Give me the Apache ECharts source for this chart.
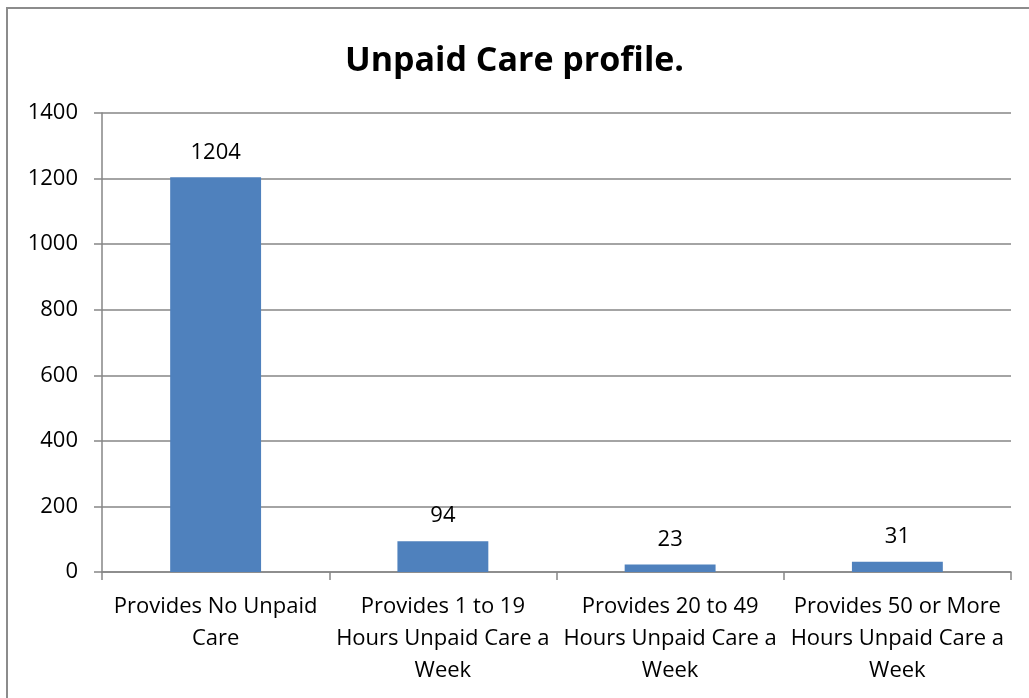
<!DOCTYPE html>
<html>
<head>
<meta charset="utf-8">
<script src="https://cdn.jsdelivr.net/npm/echarts@6/dist/echarts.min.js"></script>
<style>
  html, body { margin: 0; padding: 0; background: #fff; }
  #frame {
    position: absolute; left: 6px; top: 7px; width: 1040px; height: 720px;
    border: 2px solid #8c8c8c; box-sizing: border-box;
  }
  #chart { position: absolute; left: 0; top: 0; width: 1029px; height: 698px; }
</style>
</head>
<body>
<div id="frame"></div>
<div id="chart"></div>
<script>
  // categories and counts
  var categories = [
    'Provides No Unpaid\nCare',
    'Provides 1 to 19\nHours Unpaid Care a\nWeek',
    'Provides 20 to 49\nHours Unpaid Care a\nWeek',
    'Provides 50 or More\nHours Unpaid Care a\nWeek'
  ];
  var counts = [1204, 94, 23, 31];
  var yTicks = [0, 200, 400, 600, 800, 1000, 1200, 1400];

  var font = 'Open Sans, Noto Sans, sans-serif';
  var myChart = echarts.init(document.getElementById('chart'));
  myChart.setOption({
    animation: false,
    title: {
      text: 'Unpaid Care profile.',
      left: 'center',
      top: 39,
      textStyle: { fontFamily: font, fontSize: 34, fontWeight: 'bold', color: '#000' }
    },
    grid: { left: 102, right: 18, top: 113, bottom: 126 },
    xAxis: {
      type: 'category',
      data: categories,
      axisLine: { lineStyle: { color: '#868686', width: 1.5 } },
      axisTick: { show: true, length: 8, lineStyle: { color: '#868686', width: 1.5 } },
      axisLabel: {
        interval: 0, margin: 19, color: '#000',
        fontFamily: font, fontSize: 22, lineHeight: 32
      }
    },
    yAxis: {
      type: 'value',
      min: yTicks[0],
      max: yTicks[yTicks.length - 1],
      interval: 200,
      axisLine: { show: true, lineStyle: { color: '#868686', width: 1.5 } },
      axisTick: { show: true, length: 8, lineStyle: { color: '#868686', width: 1.5 } },
      splitLine: { lineStyle: { color: '#868686', width: 1.5 } },
      axisLabel: {
        margin: 24, color: '#000', fontFamily: font, fontSize: 22,
        formatter: function (v) { return String(v); }
      }
    },
    series: [{
      type: 'bar',
      data: counts,
      barWidth: '40%',
      itemStyle: { color: '#4F81BD' },
      label: {
        show: true, position: 'top', distance: 14,
        color: '#000', fontFamily: font, fontSize: 22
      }
    }]
  });
  window.addEventListener('resize', function () { myChart.resize(); });
</script>
</body>
</html>
